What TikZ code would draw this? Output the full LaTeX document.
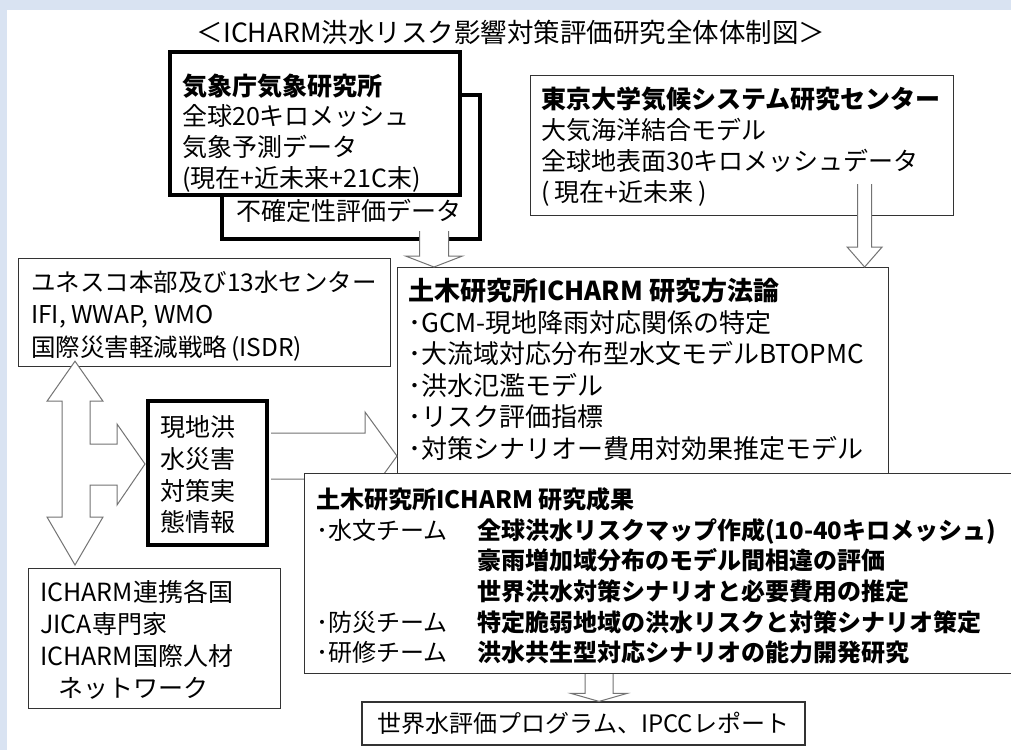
\documentclass[tikz,border=0pt]{standalone}
\usepackage{fontspec}
\setmainfont{Noto Sans CJK JP}
\usetikzlibrary{positioning,calc,backgrounds}
\definecolor{bgblue}{RGB}{217,227,242}
\newcommand{\fsz}[2]{\fontsize{#1}{#2}\selectfont}
% hollow block arrows: start, tip, half shaft, half head, head length
\newcommand{\dnarr}[5]{\draw[ar] let \p1=(#1),\p2=(#2) in (\x1-#3,\y1) -- (\x1-#3,\y2+#5) -- (\x1-#4,\y2+#5) -- (\x2,\y2) -- (\x1+#4,\y2+#5) -- (\x1+#3,\y2+#5) -- (\x1+#3,\y1);}
\newcommand{\rtarr}[5]{\draw[ar] let \p1=(#1),\p2=(#2) in (\x1,\y1+#3) -- (\x2-#5,\y1+#3) -- (\x2-#5,\y1+#4) -- (\x2,\y2) -- (\x2-#5,\y1-#4) -- (\x2-#5,\y1-#3) -- (\x1,\y1-#3);}

\begin{document}
\begin{tikzpicture}[x=1pt,y=-1pt]
\tikzstyle{bx} = [draw=black!80,line width=1.2pt,fill=white,inner sep=0pt,anchor=north west]
\tikzstyle{tbx} = [bx,draw=black,line width=4pt]
\tikzstyle{tx} = [anchor=north west,align=left,inner sep=0pt]
\tikzstyle{ar} = [draw=black!55,line width=1pt,fill=white]
\useasboundingbox (0,0) rectangle (1011,750);
\node[font={\fsz{26.5}{30}}] (ttl) at (511,32) {＜ICHARM洪水リスク影響対策評価研究全体体制図＞};
% sources
\node[tbx,minimum width=258,minimum height=144] (unc) at (220,93) {};
\node[tbx,minimum width=290,minimum height=143] (jma) at (168,50) {};
\node[tx,font={\fsz{25}{30.7}}] (jmat) at (182,73.5) {\textbf{気象庁気象研究所}\\全球20キロメッシュ\\気象予測データ\\(現在+近未来+21C末)};
\node[font={\fsz{25}{30}}] (unct) at (349,211) {不確定性評価データ};
\node[bx,minimum width=423,minimum height=140] (tky) at (530,75) {};
\node[tx,font={\fsz{25}{31}}] (tkyt) at (541,86.5) {\textbf{東京大学気候システム研究センター}\\大気海洋結合モデル\\全球地表面30キロメッシュデータ\\(\hspace{5pt}現在+近未来\hspace{5pt})};
% method
\node[bx,minimum width=491,minimum height=210] (mth) at (397,267) {};
\node[tx,font={\fsz{26}{31.6}}] (mtht) at (408,278) {\textbf{土木研究所ICHARM 研究方法論}\\･GCM-現地降雨対応関係の特定\\･大流域対応分布型水文モデルBTOPMC\\･洪水氾濫モデル\\･リスク評価指標\\･対策シナリオー費用対効果推定モデル};
% partners
\node[bx,minimum width=372,minimum height=108] (uns) at (18,258) {};
\node[tx,font={\fsz{24.5}{32.5}}] (unst) at (31,270.5) {ユネスコ本部及び13水センター\\IFI, WWAP, WMO\\国際災害軽減戦略\hspace{4pt}(ISDR)};
\node[tbx,minimum width=119,minimum height=144] (loc) at (146,399) {};
\node[tx,font={\fsz{25}{31.7}}] (loct) at (160,415.5) {現地洪\\水災害\\対策実\\態情報};
\node[bx,minimum width=252,minimum height=140] (cty) at (28,568) {};
\node[tx,font={\fsz{25}{31.7}}] (ctyt) at (40,580.5) {ICHARM連携各国\\JICA専門家\\ICHARM国際人材\\\hspace{18pt}ネットワーク};
% arrows
\coordinate (a1s) at ([xshift=83,yshift=10]unc.south);
\coordinate (a1e) at (a1s |- mth.north);
\dnarr{a1s}{a1e}{14.5}{28.5}{11}
\coordinate (a2s) at ([xshift=122.5,yshift=32]tky.south);
\coordinate (a2e) at (a2s |- mth.north);
\dnarr{a2s}{a2e}{7}{17.5}{20}
\coordinate (a3s) at ([xshift=2,yshift=17]loc.east);
\coordinate (a3e) at (a3s -| mth.west);
\rtarr{a3s}{a3e}{23}{44}{32}
\coordinate (lu) at ($(uns.south west)+(57,-6)$);
\coordinate (ld) at ($(cty.north west)+(47,-3)$);
\coordinate (lr) at ($(loc.west)+(-1,-9)$);
\draw[ar] let \p1=(lu),\p2=(ld),\p3=(lr) in (\x1,\y1) -- (\x1+28,\y1-40) -- (\x1+15,\y1-40) -- (\x1+15,\y3+20) -- (\x3-28,\y3+20) -- (\x3-28,\y3+40) -- (\x3,\y3) -- (\x3-28,\y3-41) -- (\x3-28,\y3-21) -- (\x1+15,\y3-21) -- (\x1+15,\y2+48) -- (\x1+28,\y2+48) -- (\x2,\y2) -- (\x1-28,\y2+48) -- (\x1-13,\y2+48) -- (\x1-13,\y1-40) -- (\x1-28,\y1-40) -- cycle;
% results
\node[bx,minimum width=716,minimum height=200] (res) at (304,473) {};
\node[tx,font={\fsz{24}{30.6}}] (rest) at (316,487.5) {\textbf{土木研究所ICHARM 研究成果}\\
\makebox[161pt][l]{･水文チーム}\textbf{全球洪水リスクマップ作成(10-40キロメッシュ)}\\
\makebox[161pt][l]{}\textbf{豪雨増加域分布のモデル間相違の評価}\\
\makebox[161pt][l]{}\textbf{世界洪水対策シナリオと必要費用の推定}\\
\makebox[161pt][l]{･防災チーム}\textbf{特定脆弱地域の洪水リスクと対策シナリオ策定}\\
\makebox[161pt][l]{･研修チーム}\textbf{洪水共生型対応シナリオの能力開発研究}};
\node[bx,anchor=center,minimum width=443,minimum height=43,font={\fsz{24}{28}}] (fin) at (583.5,723.5) {世界水評価プログラム、IPCCレポート};
\coordinate (a4e) at ([xshift=15.5]fin.north);
\coordinate (a4s) at (a4e |- res.south);
\dnarr{a4s}{a4e}{14}{28}{8}
\begin{pgfonlayer}{background}
\fill[bgblue] (0,0) rectangle (1011,750);
\fill[white] (7,10) rectangle (1011,750);
\end{pgfonlayer}
\end{tikzpicture}
\end{document}
